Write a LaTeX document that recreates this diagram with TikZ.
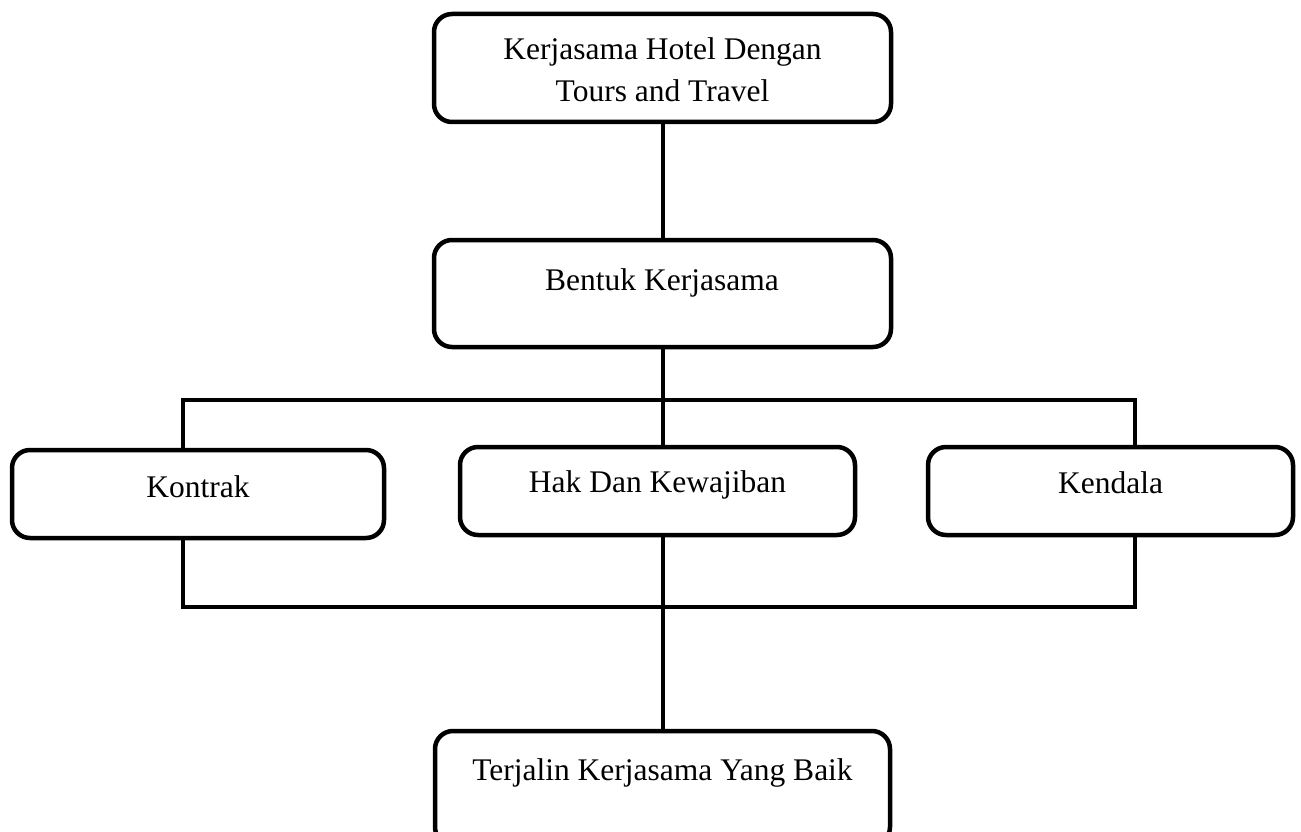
\documentclass[tikz,border=0pt]{standalone}
\usepackage{fontspec}
\setmainfont{Liberation Serif}
\begin{document}
\begin{tikzpicture}[x=1pt,y=-1pt,
  box/.style={draw, line width=4.5pt, rounded corners=18pt, inner sep=0pt},
  conn/.style={line width=4pt},
  lbl/.style={font=\fontsize{31.5}{41}\selectfont, inner sep=0pt, anchor=base}]
\useasboundingbox (0,0) rectangle (1301,832);
\clip (0,0) rectangle (1301,832);
% boxes
\node[box, minimum width=457pt, minimum height=108pt] (top) at (662.5,68) {};
\node[box, minimum width=457pt, minimum height=107pt] (bentuk) at (662.5,293.5) {};
\node[box, minimum width=372pt, minimum height=88pt] (kontrak) at (198,494) {};
\node[box, minimum width=395pt, minimum height=88pt] (hak) at (657.5,491) {};
\node[box, minimum width=365pt, minimum height=88pt] (kendala) at (1110.5,491) {};
\node[box, minimum width=455pt, minimum height=114pt] (terjalin) at (662.5,788) {};
% texts
\node[lbl] (t1a) at (662.5,60) {Kerjasama Hotel Dengan};
\node[lbl] (t1b) at (662.5,102) {Tours and Travel};
\node[lbl] (t2) at (662,290) {Bentuk Kerjasama};
\node[lbl] (t3) at (198,497) {Kontrak};
\node[lbl] (t4) at (657.5,492) {Hak Dan Kewajiban};
\node[lbl] (t5) at (1110.5,493) {Kendala};
\node[lbl] (t6) at (662.5,780) {Terjalin Kerjasama Yang Baik};
% connectors
\coordinate (tl) at (183,400);
\coordinate (tr) at (1135,400);
\coordinate (bl) at (183,607);
\coordinate (br) at (1135,607);
\draw[conn] (top.south) -- (bentuk.north);
\draw[conn] (bentuk.south) -- (bentuk.south |- hak.north);
\draw[conn] (kontrak.north -| tl) -- (tl) -- (tr) -- (kendala.north -| tr);
\draw[conn] (kontrak.south -| bl) -- (bl) -- (br) -- (kendala.south -| br);
\draw[conn] (bentuk.south |- hak.south) -- (terjalin.north -| bentuk.south);
\end{tikzpicture}
\end{document}
